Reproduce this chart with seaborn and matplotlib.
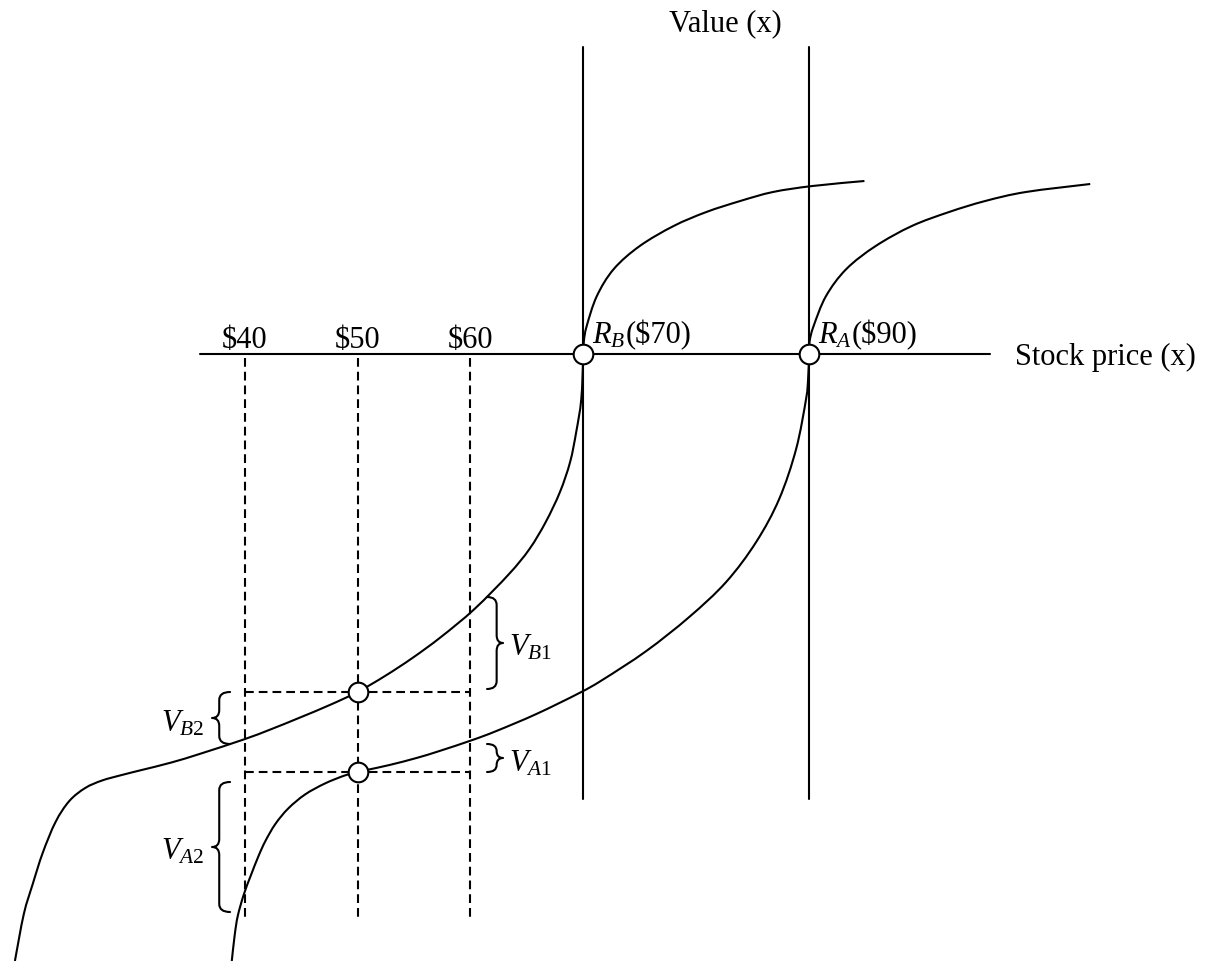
import numpy as np
import pandas as pd
import matplotlib.pyplot as plt
import seaborn as sns
from matplotlib.path import Path
from matplotlib.patches import PathPatch

# horizontal axis: stock price in $, vertical axis: value (arbitrary units)
tick_prices = [40, 50, 60]
tick_labels = ["$40", "$50", "$60"]
ref_prices = [70, 90]
ref_names = [r"$R_B$", r"$R_A$"]
ref_labels = ["($70)", "($90)"]

# value function with reference point R_B = $70
curve_b_price = [94.9, 90.3, 86.8, 83.9, 80.9, 78.0, 75.0, 72.7, 71.2, 70.3, 70.05, 70.0,
                 69.82, 69.37, 68.83, 67.93, 66.67, 65.23, 63.42, 60.36, 57.39, 54.86, 52.43, 50.0,
                 47.54, 44.91, 42.28, 39.91, 36.14, 33.51, 30.88,
                 29.12, 27.37, 25.88, 24.47, 23.25, 22.11, 21.23, 20.44, 19.65]
curve_b_value = [17.3, 16.8, 16.2, 15.3, 14.2, 12.8, 10.8, 8.5, 5.8, 2.8, 1.3, 0.0,
                 -4.5, -7.8, -10.8, -13.8, -16.8, -19.5, -22.0, -25.5, -28.3, -30.4, -32.2, -33.8,
                 -35.1, -36.35, -37.55, -38.55, -39.95, -40.85, -41.6,
                 -42.1, -42.65, -43.4, -44.7, -46.8, -49.9, -53.0, -56.0, -60.7]

# value function with reference point R_A = $90
curve_a_price = [114.9, 109.2, 105.6, 102.4, 99.1, 95.9, 93.3, 91.5, 90.4, 90.05, 90.0,
                 89.91, 89.73, 88.85, 87.35, 85.31, 82.65, 79.38, 75.58, 71.68, 69.65, 65.84,
                 62.30, 60.18, 57.26, 55.22, 52.83, 50.80, 50.0,
                 48.86, 47.11, 45.35, 43.86, 42.72, 41.84, 41.23, 40.53, 39.91, 39.39, 39.12, 38.86]
curve_a_value = [17.0, 16.2, 15.3, 14.2, 12.8, 10.8, 8.5, 5.8, 2.8, 1.3, 0.0,
                 -2.5, -4.5, -9.5, -14.5, -18.8, -22.8, -26.3, -29.7, -32.6, -33.9, -36.0,
                 -37.7, -38.6, -39.7, -40.4, -41.1, -41.6, -41.8,
                 -42.15, -42.95, -44.05, -45.45, -47.0, -48.7, -50.2, -52.2, -54.1, -56.2, -58.1, -60.7]

# value of each curve at $50
point_price = [50, 50]
point_value = [-33.8, -41.8]

# braces showing value differences
brace_labels = [r"$V_{B1}$", r"$V_{B2}$", r"$V_{A1}$", r"$V_{A2}$"]
brace_top = [-24.3, -33.8, -39.0, -42.8]
brace_bottom = [-33.5, -39.0, -41.8, -55.8]
brace_side = ["right", "left", "right", "left"]


def smooth_path(xs, ys):
    # Catmull-Rom through the read points, drawn as cubic Bezier segments
    P = np.column_stack([xs, ys]).astype(float)
    n = len(P)
    verts = [tuple(P[0])]
    codes = [Path.MOVETO]
    for i in range(n - 1):
        p0 = P[i - 1] if i > 0 else P[i]
        p1, p2 = P[i], P[i + 1]
        p3 = P[i + 2] if i + 2 < n else P[i + 1]
        c1 = p1 + (p2 - p0) / 6
        c2 = p2 - (p3 - p1) / 6
        verts += [tuple(c1), tuple(c2), tuple(p2)]
        codes += [Path.CURVE4] * 3
    return Path(verts, codes)


def draw_brace(ax, x_base, x_tip, top, bottom, lw):
    r = min(0.8, (top - bottom) / 4)
    xm = x_base + 0.6 * (x_tip - x_base)
    mid = (top + bottom) / 2
    verts = [(x_base, top), (xm, top), (xm, top - r),
             (xm, mid + r), (xm, mid), (x_tip, mid),
             (xm, mid), (xm, mid - r),
             (xm, bottom + r), (xm, bottom), (x_base, bottom)]
    codes = [Path.MOVETO, Path.CURVE3, Path.CURVE3,
             Path.LINETO, Path.CURVE3, Path.CURVE3,
             Path.CURVE3, Path.CURVE3,
             Path.LINETO, Path.CURVE3, Path.CURVE3]
    ax.add_patch(PathPatch(Path(verts, codes), fill=False, lw=lw, edgecolor='black',
                           capstyle='round', joinstyle='round'))


def main():
    sns.set_theme(style="white")
    plt.rcParams['font.family'] = ['Liberation Serif', 'DejaVu Serif']
    plt.rcParams['text.color'] = 'black'
    plt.rcParams['mathtext.fontset'] = 'custom'
    plt.rcParams['mathtext.rm'] = 'Liberation Serif'
    plt.rcParams['mathtext.it'] = 'Liberation Serif:italic'

    fig = plt.figure(figsize=(12.1, 9.62), dpi=100)
    ax = fig.add_axes([0, 0, 1, 1])

    lw = 1.5
    fs = 22

    # axes of the diagram
    ax.plot([36.05, 106.0], [0, 0], color='black', lw=lw, zorder=2)
    for p in ref_prices:
        ax.plot([p, p], [30.7, -44.5], color='black', lw=lw, zorder=2)

    # dashed guides
    dash = (0, (4.2, 2.4))
    ax.vlines(tick_prices, -0.4, -56.3, colors='black', lw=lw, linestyles=[dash])
    ax.hlines(point_value, min(tick_prices), max(tick_prices), colors='black',
              lw=lw, linestyles=[dash])

    # value functions
    df_b = pd.DataFrame({"price": curve_b_price, "value": curve_b_value})
    df_a = pd.DataFrame({"price": curve_a_price, "value": curve_a_value})
    for df in (df_b, df_a):
        ax.add_patch(PathPatch(smooth_path(df["price"], df["value"]), fill=False,
                               lw=lw, edgecolor='black', zorder=3))

    # circles
    pts = pd.DataFrame({"price": point_price + ref_prices,
                        "value": point_value + [0, 0]})
    sns.scatterplot(data=pts, x="price", y="value", s=200, color='white',
                    edgecolor='black', linewidth=lw, ax=ax, zorder=5)
    ax.set_xlim(18.33, 125.51)
    ax.set_ylim(-60.7, 35.5)
    ax.axis('off')

    # labels
    for p, lab in zip(tick_prices, tick_labels):
        ax.text(p, 0.7, lab, ha='center', va='baseline', fontsize=fs)
    for p, name, lab in zip(ref_prices, ref_names, ref_labels):
        t = ax.text(p + 0.75, 1.2, name, ha='left', va='baseline', fontsize=fs)
        ax.annotate(lab, xy=(1, 1.2), xycoords=(t, 'data'), ha='left',
                    va='baseline', fontsize=fs)
    ax.text(82.6, 32.4, "Value (x)", ha='center', va='baseline', fontsize=fs)
    ax.text(108.2, -1.0, "Stock price (x)", ha='left', va='baseline', fontsize=fs)

    # braces
    for lab, top, bot, side in zip(brace_labels, brace_top, brace_bottom, brace_side):
        mid = (top + bot) / 2
        if side == "right":
            draw_brace(ax, 61.47, 62.89, top, bot, lw)
            ax.text(63.4, mid - 1.2, lab, ha='left', va='baseline', fontsize=fs)
        else:
            draw_brace(ax, 38.71, 37.11, top, bot, lw)
            ax.text(36.4, mid - 1.2, lab, ha='right', va='baseline', fontsize=fs)

    fig.savefig("out.png", dpi=100)
    plt.close(fig)


if __name__ == "__main__":
    main()
